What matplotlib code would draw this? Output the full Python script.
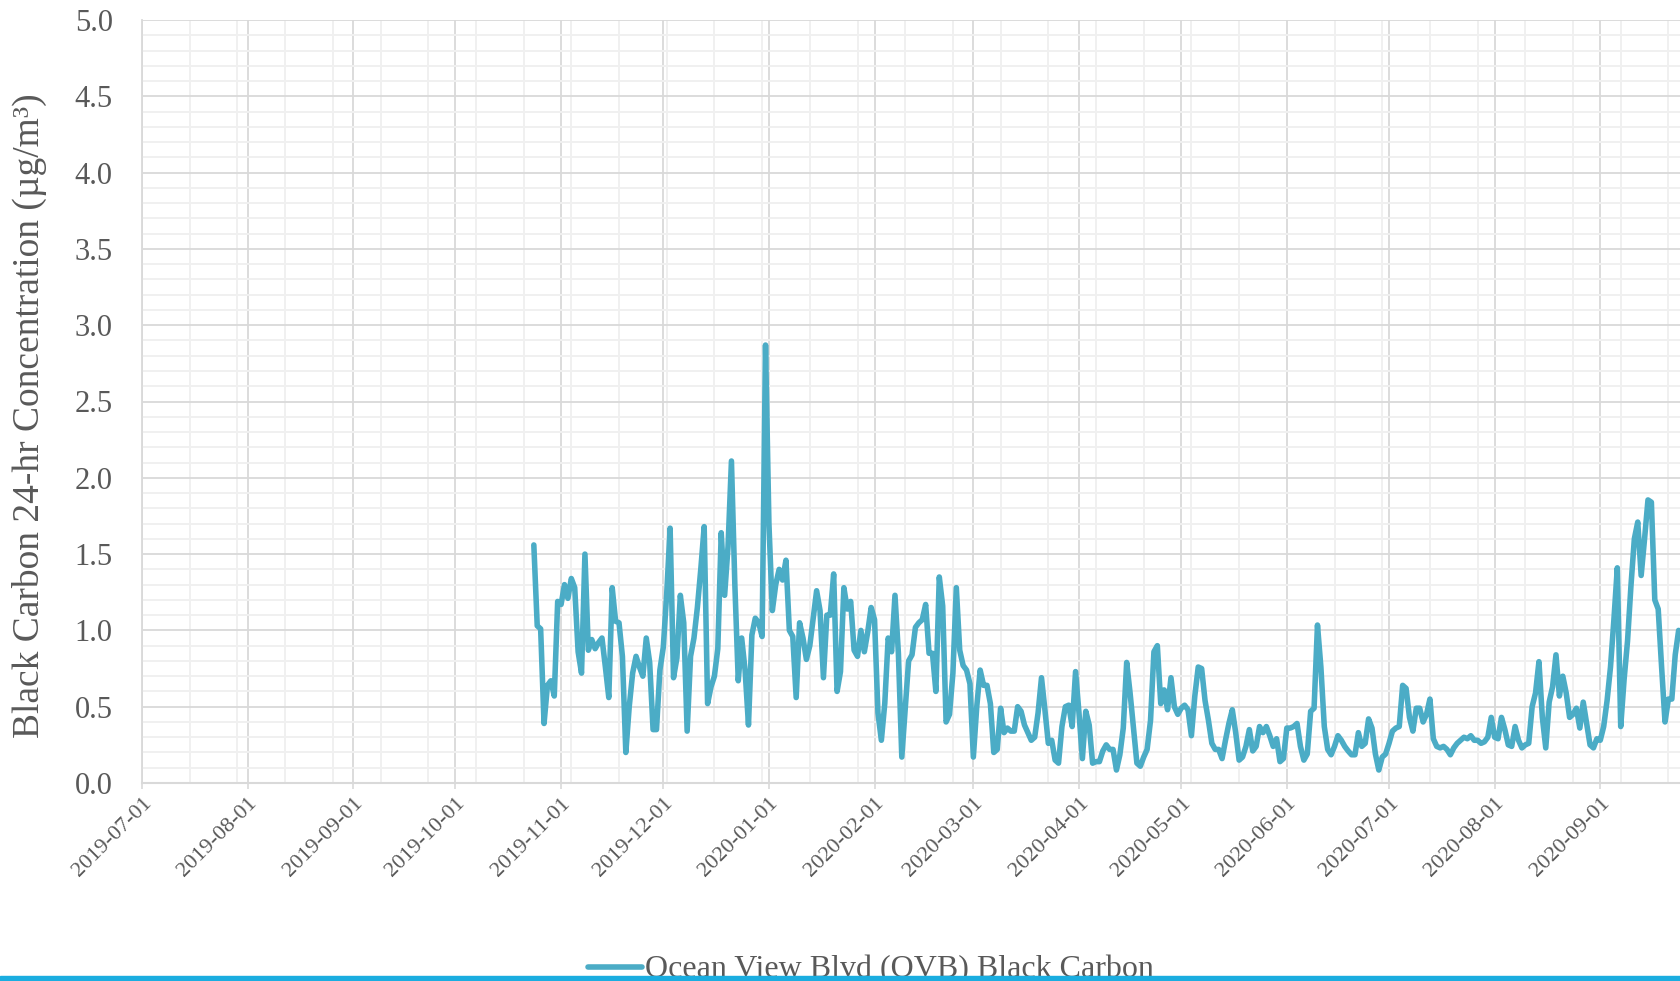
import matplotlib
matplotlib.use("Agg")
import matplotlib.pyplot as plt
import matplotlib.dates as mdates
from matplotlib.patches import Rectangle
from matplotlib.ticker import MultipleLocator, FixedLocator
import numpy as np
import pandas as pd

# daily 24-hr black carbon (ug/m3), one list per month
start_date = "2019-10-24"
oct_2019 = [1.56, 1.03, 1.01, 0.39, 0.64, 0.67, 0.57, 1.19]
nov_2019 = [1.17, 1.30, 1.21, 1.34, 1.28, 0.86, 0.72, 1.50, 0.87, 0.94,
            0.88, 0.92, 0.95, 0.76, 0.56, 1.28, 1.06, 1.05, 0.83, 0.20,
            0.50, 0.72, 0.83, 0.76, 0.70, 0.95, 0.79, 0.35, 0.35, 0.74]
dec_2019 = [0.89, 1.24, 1.67, 0.69, 0.82, 1.23, 1.05, 0.34, 0.83, 0.95,
            1.15, 1.40, 1.68, 0.52, 0.63, 0.70, 0.88, 1.64, 1.23, 1.55,
            2.11, 1.30, 0.67, 0.95, 0.74, 0.38, 0.97, 1.08, 1.05, 0.96, 2.87]
jan_2020 = [1.70, 1.13, 1.30, 1.40, 1.33, 1.46, 1.00, 0.96, 0.56, 1.05,
            0.95, 0.81, 0.90, 1.08, 1.26, 1.13, 0.69, 1.10, 1.10, 1.37,
            0.60, 0.73, 1.28, 1.14, 1.19, 0.87, 0.83, 1.00, 0.86, 0.99, 1.15]
feb_2020 = [1.07, 0.46, 0.28, 0.52, 0.95, 0.86, 1.23, 0.85, 0.17, 0.48,
            0.80, 0.84, 1.02, 1.05, 1.07, 1.17, 0.85, 0.85, 0.60, 1.35,
            1.16, 0.40, 0.45, 0.72, 1.28, 0.87, 0.77, 0.74, 0.65]
mar_2020 = [0.17, 0.50, 0.74, 0.64, 0.64, 0.52, 0.20, 0.22, 0.49, 0.33,
            0.36, 0.34, 0.34, 0.50, 0.47, 0.38, 0.33, 0.28, 0.30, 0.46,
            0.69, 0.48, 0.26, 0.28, 0.15, 0.13, 0.37, 0.50, 0.51, 0.37, 0.73]
apr_2020 = [0.46, 0.16, 0.47, 0.38, 0.13, 0.14, 0.14, 0.21, 0.25, 0.22,
            0.22, 0.085, 0.185, 0.36, 0.79, 0.59, 0.36, 0.13, 0.11, 0.17,
            0.22, 0.41, 0.86, 0.90, 0.52, 0.61, 0.48, 0.69, 0.50, 0.45]
may_2020 = [0.49, 0.51, 0.48, 0.31, 0.57, 0.76, 0.75, 0.54, 0.41, 0.26,
            0.22, 0.22, 0.16, 0.28, 0.39, 0.48, 0.33, 0.15, 0.17, 0.24,
            0.35, 0.21, 0.24, 0.37, 0.33, 0.37, 0.31, 0.24, 0.29, 0.14, 0.16]
jun_2020 = [0.36, 0.36, 0.37, 0.39, 0.24, 0.15, 0.19, 0.47, 0.49, 1.035,
            0.76, 0.37, 0.22, 0.185, 0.24, 0.31, 0.28, 0.24, 0.21, 0.185,
            0.185, 0.33, 0.24, 0.26, 0.42, 0.36, 0.19, 0.085, 0.17, 0.19]
jul_2020 = [0.26, 0.34, 0.36, 0.37, 0.64, 0.62, 0.43, 0.34, 0.49, 0.49,
            0.40, 0.45, 0.55, 0.29, 0.24, 0.23, 0.24, 0.22, 0.185, 0.23,
            0.26, 0.28, 0.30, 0.29, 0.31, 0.28, 0.28, 0.26, 0.27, 0.30, 0.43]
aug_2020 = [0.30, 0.29, 0.43, 0.35, 0.25, 0.24, 0.37, 0.28, 0.23, 0.25,
            0.26, 0.50, 0.59, 0.795, 0.43, 0.23, 0.53, 0.63, 0.84, 0.57,
            0.70, 0.59, 0.43, 0.45, 0.49, 0.36, 0.53, 0.39, 0.25, 0.23, 0.29]
sep_2020 = [0.28, 0.37, 0.54, 0.76, 1.07, 1.41, 0.37, 0.68, 0.93, 1.29,
            1.60, 1.71, 1.36, 1.60, 1.855, 1.84, 1.20, 1.14, 0.76, 0.40,
            0.55, 0.55, 0.84, 1.00]

series_name = "Ocean View Blvd (OVB) Black Carbon"
y_label = "Black Carbon 24-hr Concentration (µg/m³)"

values = (oct_2019 + nov_2019 + dec_2019 + jan_2020 + feb_2020 + mar_2020 +
          apr_2020 + may_2020 + jun_2020 + jul_2020 + aug_2020 + sep_2020)
dates = pd.date_range(start_date, periods=len(values), freq="D")

# colours
line_col = "#4bacc6"
major_grid = "#d9d9d9"
minor_grid = "#f0f0f0"
text_col = "#595959"

plt.rcParams["font.family"] = ["Liberation Serif", "DejaVu Serif"]

fig = plt.figure(figsize=(16.8, 9.81), dpi=100)
ax = fig.add_axes([142 / 1680, 1 - 783 / 981, 1 - 142 / 1680, (783 - 20) / 981])

ax.plot(dates, values, color=line_col, lw=4.0, solid_joinstyle="round",
        solid_capstyle="round", label=series_name, zorder=3)

x0 = mdates.date2num(pd.Timestamp("2019-07-01"))
ax.set_xlim(x0, x0 + 451.4)
ax.set_ylim(0, 5)

# axis ticks and grid
ax.xaxis.set_major_locator(mdates.MonthLocator())
ax.xaxis.set_major_formatter(mdates.DateFormatter("%Y-%m-%d"))
ax.xaxis.set_minor_locator(FixedLocator(np.arange(x0, x0 + 460, 14)))
ax.yaxis.set_major_locator(MultipleLocator(0.5))
ax.yaxis.set_minor_locator(MultipleLocator(0.1))
ax.yaxis.set_major_formatter(matplotlib.ticker.FormatStrFormatter("%.1f"))

ax.grid(which="minor", color=minor_grid, lw=1.4, zorder=0)
ax.grid(which="major", color=major_grid, lw=1.3, zorder=1)
ax.set_axisbelow(True)

ax.tick_params(axis="x", which="major", length=4, width=1.2, color=major_grid,
               labelsize=16, labelcolor=text_col, pad=4)
ax.tick_params(axis="x", which="minor", length=0)
ax.tick_params(axis="y", which="both", length=0, labelsize=22,
               labelcolor=text_col, pad=21)
for lab in ax.get_xticklabels():
    lab.set_rotation(45)
    lab.set_ha("right")
    lab.set_va("top")
    lab.set_rotation_mode("anchor")

for s in ["top", "right"]:
    ax.spines[s].set_visible(False)
ax.spines["left"].set_color(major_grid)
ax.spines["bottom"].set_color(major_grid)
ax.spines["left"].set_linewidth(1.3)
ax.spines["bottom"].set_linewidth(1.5)

fig.text(29 / 1680, 1 - 416 / 981, y_label, rotation=90, ha="center",
         va="center", fontsize=27, color=text_col)

leg = fig.legend(loc="center", bbox_to_anchor=(871 / 1680, 1 - 970 / 981),
                 frameon=False, fontsize=23, handlelength=1.7,
                 handletextpad=0.1, borderpad=0)
for t in leg.get_texts():
    t.set_color(text_col)

# blue strip along the bottom edge
fig.add_artist(Rectangle((0, 0), 1, 5 / 981, transform=fig.transFigure,
                         color="#1aade0", zorder=10))

fig.savefig("out.png", dpi=100)
